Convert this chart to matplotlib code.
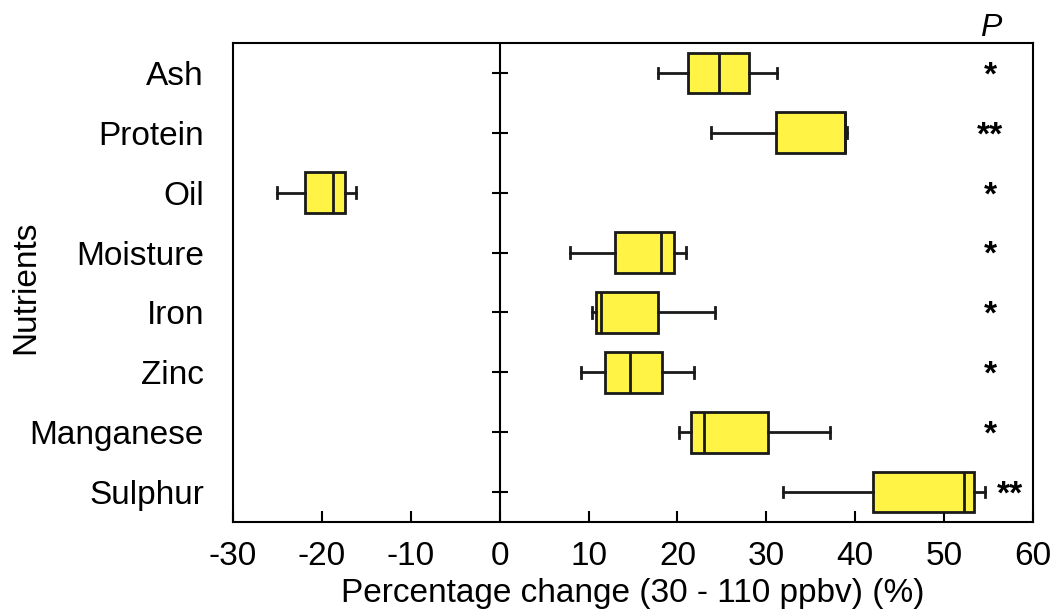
import numpy as np
import matplotlib.pyplot as plt

# nutrient percentage changes, five-number summaries
nutrients = ['Ash', 'Protein', 'Oil', 'Moisture', 'Iron', 'Zinc', 'Manganese', 'Sulphur']
whis_lo = [17.8, 23.8, -25.1, 7.9, 10.35, 9.1, 20.2, 31.9]
q1 = [21.2, 31.1, -21.9, 13.0, 10.8, 11.85, 21.5, 42.0]
median = [24.7, 38.8, -18.7, 18.2, 11.4, 14.7, 23.0, 52.2]
q3 = [28.0, 38.9, -17.4, 19.6, 17.8, 18.3, 30.2, 53.4]
whis_hi = [31.2, 39.1, -16.2, 21.0, 24.2, 21.9, 37.2, 54.6]
signif = ['*', '**', '*', '*', '*', '*', '*', '**']
sig_x = [55.2, 55.2, 55.2, 55.2, 55.2, 55.2, 55.2, 57.4]
xticks = [-30, -20, -10, 0, 10, 20, 30, 40, 50, 60]

plt.rcParams['font.family'] = ['Liberation Sans', 'DejaVu Sans']

stats = [dict(whislo=a, q1=b, med=c, q3=d, whishi=e)
         for a, b, c, d, e in zip(whis_lo, q1, median, q3, whis_hi)]
pos = np.arange(len(nutrients))

fig = plt.figure(figsize=(10.55, 6.15), dpi=100)
ax = fig.add_axes([0.2209, 0.1512, 0.7582, 0.7789])

ax.bxp(stats, positions=pos, vert=False, widths=0.68, patch_artist=True,
       showfliers=False, capwidths=0.18,
       boxprops=dict(facecolor='#FFF445', edgecolor='#1a1a1a', linewidth=2),
       medianprops=dict(color='#1a1a1a', linewidth=2),
       whiskerprops=dict(color='#1a1a1a', linewidth=2),
       capprops=dict(color='#1a1a1a', linewidth=2))

# zero line with small row ticks
ax.axvline(0, color='black', linewidth=1.5, zorder=0)
ax.plot(np.zeros(len(pos)), pos, linestyle='none', marker='_', markersize=12,
        markeredgewidth=1.5, color='black', zorder=1)

for y, (s, x) in enumerate(zip(signif, sig_x)):
    ax.text(x, y + 0.05, s, ha='center', va='center', fontsize=24, fontweight='bold')
ax.text(55.2, -0.5, 'P', ha='center', va='bottom', fontsize=23, style='italic')

ax.set_xlim(-30, 60)
ax.set_ylim(7.5, -0.5)
ax.set_xticks(xticks)
ax.set_xticklabels([str(t) for t in xticks], fontsize=24)
ax.tick_params(axis='x', direction='in', length=8, width=1.5, pad=14)
ax.set_yticks(pos)
ax.set_yticklabels(nutrients, fontsize=24)
ax.tick_params(axis='y', length=0, pad=21)

ax.set_xlabel('Percentage change (30 - 110 ppbv) (%)', fontsize=24, labelpad=4)
ax.set_ylabel('Nutrients', fontsize=24)
ax.yaxis.set_label_coords(-0.24, 0.49)

for sp in ax.spines.values():
    sp.set_linewidth(1.5)

plt.savefig('out.png', dpi=100)
